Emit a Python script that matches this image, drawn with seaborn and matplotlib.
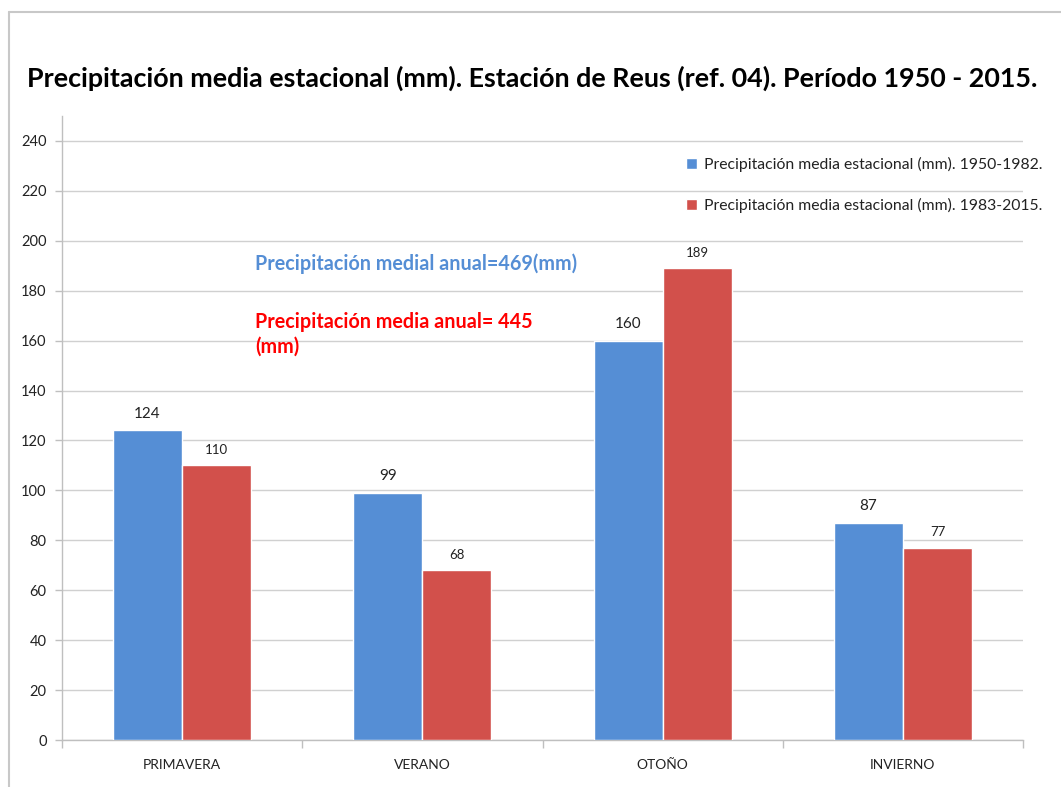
import matplotlib
matplotlib.use("Agg")
import matplotlib.pyplot as plt
from matplotlib.lines import Line2D
import seaborn as sns
import pandas as pd

# Seasonal mean precipitation (mm), two periods
seasons = ["PRIMAVERA", "VERANO", "OTOÑO", "INVIERNO"]
periods = ["Precipitación media estacional (mm). 1950-1982.",
           "Precipitación media estacional (mm). 1983-2015."]
values_1950_1982 = [124, 99, 160, 87]
values_1983_2015 = [110, 68, 189, 77]
y_ticks = list(range(0, 241, 20))
title = "Precipitación media estacional (mm). Estación de Reus (ref. 04). Período 1950 - 2015."
note_blue = "Precipitación medial anual=469(mm)"
note_red = "Precipitación media anual= 445\n(mm)"

BLUE = "#558ED5"
RED = "#D2504B"
GRID = "#D0D0D0"
AXIS = "#BFBFBF"

df = pd.DataFrame({
    "season": seasons * 2,
    "period": [periods[0]] * 4 + [periods[1]] * 4,
    "value": values_1950_1982 + values_1983_2015,
})

sns.set_theme(style="white")
plt.rcParams["font.family"] = ["Lato", "DejaVu Sans"]

fig = plt.figure(figsize=(10.61, 7.87), dpi=100)
ax = fig.add_axes([62 / 1061, 1 - 740 / 787, (1023 - 62) / 1061, (740 - 116) / 787])

sns.barplot(data=df, x="season", y="value", hue="period", order=seasons,
            hue_order=periods, palette=[BLUE, RED], width=0.575,
            saturation=1, ax=ax, errorbar=None, zorder=3)

ax.set_ylim(0, 250)
ax.set_xlim(-0.5, len(seasons) - 0.5)
ax.set_yticks(y_ticks)
ax.set_yticklabels([str(t) for t in y_ticks], fontsize=10.5, color="#222222")
ax.set_xlabel("")
ax.set_ylabel("")
ax.yaxis.grid(True, color=GRID, linewidth=1.0, zorder=0)
ax.set_axisbelow(True)

# Category separators as minor ticks on the x axis
ax.set_xticks([i - 0.5 for i in range(len(seasons) + 1)], minor=True)
ax.tick_params(axis="x", which="minor", length=6, width=1, color=AXIS, bottom=True)
ax.tick_params(axis="x", which="major", length=0, pad=14, labelsize=10, labelcolor="#222222")
ax.tick_params(axis="y", which="major", length=5, width=1, color=AXIS, left=True, pad=6)

for side in ["top", "right"]:
    ax.spines[side].set_visible(False)
for side in ["left", "bottom"]:
    ax.spines[side].set_color(AXIS)
    ax.spines[side].set_linewidth(1.0)

# Value labels on bars
for container, size in zip(ax.containers, [11, 9.5]):
    ax.bar_label(container, labels=[f"{v:.0f}" for v in container.datavalues],
                 padding=7, fontsize=size, color="#222222")

leg = ax.legend(loc="upper left", bbox_to_anchor=(0.635, 0.957), frameon=False,
                fontsize=11.3, handlelength=0.7, handleheight=0.7,
                handletextpad=0.4, labelspacing=1.62, labelcolor="#222222")

ax.text(0.303, 191.0, note_blue, color=BLUE, fontsize=14.2, fontweight="bold",
        ha="left", va="center")
ax.text(0.303, 171.6, note_red, color="#FF0000", fontsize=14.2, fontweight="bold",
        ha="left", va="top", linespacing=1.3)

fig.text(27 / 1061, 1 - 78 / 787, title, fontsize=19.4, fontweight="bold",
         ha="left", va="center", color="black")

# Outer chart frame
fig.add_artist(Line2D([9 / 1061, 1.0], [1 - 12 / 787] * 2, color="#C8C8C8",
                      linewidth=1.5, transform=fig.transFigure))
fig.add_artist(Line2D([9 / 1061] * 2, [0.0, 1 - 12 / 787], color="#C8C8C8",
                      linewidth=1.5, transform=fig.transFigure))

fig.savefig("out.png", dpi=100, facecolor="white")
